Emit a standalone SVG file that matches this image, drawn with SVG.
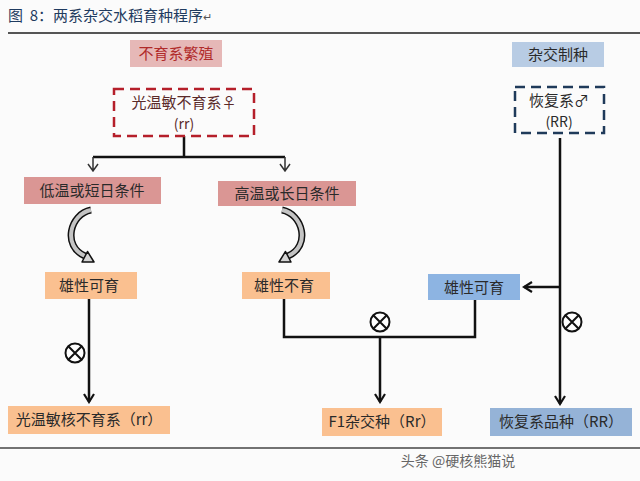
<svg xmlns="http://www.w3.org/2000/svg" width="640" height="481" viewBox="0 0 640 481">
<defs>
<style>
text{font-family:"Noto Sans CJK SC","Noto Sans",sans-serif;font-size:15px;fill:#2a2a2a;text-anchor:middle}
.ln{stroke:#111;stroke-width:2.5;fill:none}
.thin{stroke:#333;stroke-width:1.5;fill:none}
.x{stroke:#111;stroke-width:2;fill:#fff}
.curve-o{stroke:#111;stroke-width:7;fill:none}
.curve-i{stroke:#c4c4c4;stroke-width:4;fill:none}
.head{fill:#d4d4d4;stroke:#111;stroke-width:1.5;stroke-linejoin:round}
</style>
<marker id="chev" viewBox="0 0 12 12" refX="10" refY="6" markerWidth="12" markerHeight="12" markerUnits="userSpaceOnUse" orient="auto">
<polyline points="2,1 10,6 2,11" fill="none" stroke="#111" stroke-width="2.2"/>
</marker>
<g id="xsym"><circle r="9.5" class="x"/><path d="M-6.7,-6.7 L6.7,6.7 M-6.7,6.7 L6.7,-6.7" stroke="#111" stroke-width="2"/></g>
</defs>
<rect width="640" height="481" fill="#fbfbfb"/>
<g id="title">
<text x="8" y="21" style="text-anchor:start;font-size:15px;fill:#1f3b60">图&#160;&#160;8：两系杂交水稻育种程序<tspan style="font-size:11px;fill:#555">↵</tspan></text>
<line x1="8" y1="33" x2="640" y2="33" stroke="#555" stroke-width="2"/>
</g>
<g id="connectors">
<path class="ln" d="M184,136 V157 M93,157 H285"/>
<path class="thin" d="M93,157 V171 M88,164 L93,171 L98,164 M285,157 V171 M280,164 L285,171 L290,164"/>
<path class="ln" d="M89,299 V402" marker-end="url(#chev)"/>
<path class="ln" d="M284,299 V337 H475 V300 M380,337 V402" marker-end="url(#chev)"/>
<path class="ln" d="M560,138 V404" marker-end="url(#chev)"/>
<path class="ln" d="M560,287 H524" marker-end="url(#chev)"/>
<use href="#xsym" x="75" y="353"/>
<use href="#xsym" x="380" y="322"/>
<use href="#xsym" x="572" y="322"/>
<g id="curve-left">
<path class="curve-o" d="M91,210 C70,214 62,246 85,256"/>
<path class="curve-i" d="M91,210 C70,214 62,246 85,256"/>
<polygon class="head" points="82,262 87.5,251.5 94,262"/>
</g>
<g id="curve-right">
<path class="curve-o" d="M282,210 C303,214 311,246 288,256"/>
<path class="curve-i" d="M282,210 C303,214 311,246 288,256"/>
<polygon class="head" points="291,262 285.5,251.5 279,262"/>
</g>
</g>
<g id="n-sterile-prop"><rect x="130" y="40" width="92" height="27" fill="#e6b8b7"/><text x="176" y="59" style="fill:#b02a2a">不育系繁殖</text></g>
<g id="n-sterile-line"><rect x="114" y="89" width="140" height="47" fill="none" stroke="#b51f2a" stroke-width="2.5" stroke-dasharray="10,6"/><text x="184" y="108" style="fill:#5a2a2a">光温敏不育系♀</text><text x="184" y="129" style="fill:#5a2a2a;font-size:14px">(rr)</text></g>
<g id="n-hybrid-prod"><rect x="512" y="42" width="92" height="25" fill="#b8cce4"/><text x="558" y="60">杂交制种</text></g>
<g id="n-restorer"><rect x="515" y="87" width="89" height="46" fill="none" stroke="#1f3a5a" stroke-width="2.5" stroke-dasharray="10,6"/><text x="559" y="106">恢复系♂</text><text x="559" y="127" style="font-size:14px">(RR)</text></g>
<g id="n-low"><rect x="24" y="177" width="137" height="27" fill="#da9694"/><text x="92" y="196">低温或短日条件</text></g>
<g id="n-high"><rect x="218" y="181" width="138" height="25" fill="#da9694"/><text x="287" y="199">高温或长日条件</text></g>
<g id="n-fertile1"><rect x="45" y="272" width="92" height="27" fill="#fac090"/><text x="89" y="291">雄性可育</text></g>
<g id="n-sterile"><rect x="242" y="272" width="88" height="27" fill="#fac090"/><text x="284" y="291">雄性不育</text></g>
<g id="n-fertile2"><rect x="428" y="274" width="92" height="26" fill="#8db4e2"/><text x="474" y="293">雄性可育</text></g>
<g id="n-gms"><rect x="8" y="406" width="162" height="28" fill="#fac090"/><text x="89" y="425">光温敏核不育系（rr）</text></g>
<g id="n-f1"><rect x="322" y="408" width="120" height="28" fill="#fac090"/><text x="382" y="427">F1杂交种（Rr）</text></g>
<g id="n-rest-var"><rect x="490" y="408" width="142" height="28" fill="#95b3d7"/><text x="561" y="427">恢复系品种（RR）</text></g>
<line x1="0" y1="448" x2="640" y2="448" stroke="#444" stroke-width="1.5"/>
<text x="458" y="466" style="font-size:14px;fill:#666">头条 @硬核熊猫说</text>
</svg>
